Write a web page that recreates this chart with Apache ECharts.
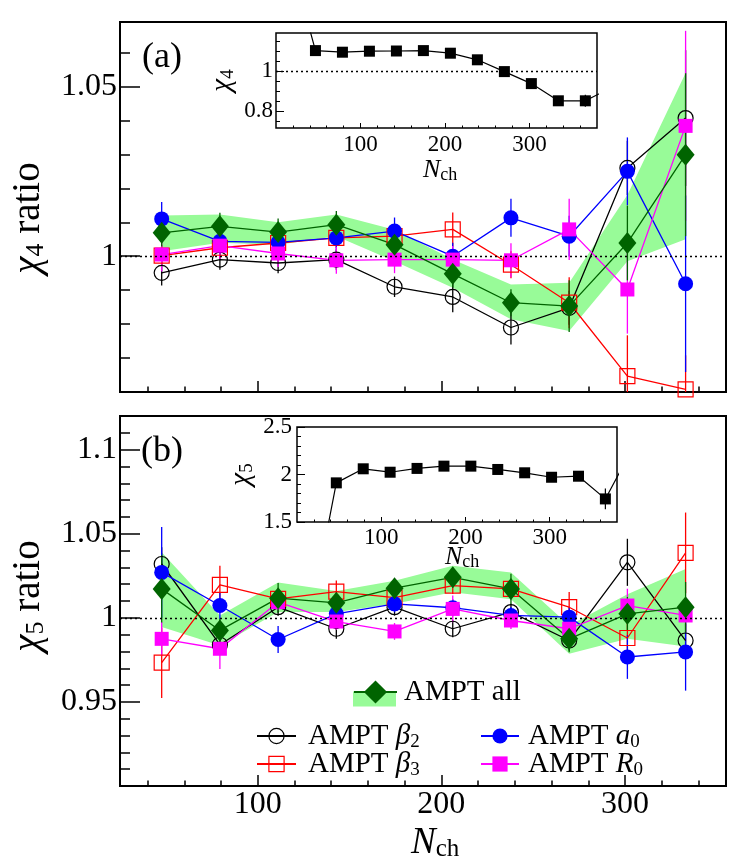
<!DOCTYPE html>
<html><head><meta charset="utf-8">
<script src="https://cdn.jsdelivr.net/npm/echarts@6/dist/echarts.min.js"></script>
<style>html,body{margin:0;padding:0;background:#fff}#c{width:740px;height:865px}</style>
</head><body><div id="c"></div>
<script>
// ---------------- data ----------------
const nch = [47.7, 79.4, 111.1, 142.8, 174.5, 206.2, 237.9, 269.6, 301.3, 333.0];

// panel (a): chi4 ratio
const a_beta2 = [0.9951, 0.9990, 0.9980, 0.9990, 0.9910, 0.9880, 0.9790, 0.9848, 1.0260, 1.0407];
const a_beta2_err = [0.0037, 0.003, 0.003, 0.003, 0.003, 0.0045, 0.005, 0.005, 0.008, 0.020];
const a_beta3 = [1.0002, 1.0025, 1.0039, 1.0054, 1.0059, 1.0079, 0.9975, 0.9863, 0.9647, 0.9608];
const a_beta3_err = [0.003, 0.003, 0.003, 0.003, 0.003, 0.005, 0.004, 0.0075, 0.012, 0.010];
const a_a0 = [1.0110, 1.0044, 1.0041, 1.0054, 1.0074, 1.0000, 1.0113, 1.0059, 1.0250, 0.9919];
const a_a0_err = [0.005, 0.004, 0.004, 0.004, 0.004, 0.004, 0.0056, 0.006, 0.010, 0.026];
const a_R0 = [1.0005, 1.0031, 1.0008, 0.9988, 0.9990, 0.9990, 0.9988, 1.0079, 0.9902, 1.0384];
const a_R0_err = [0.005, 0.004, 0.004, 0.004, 0.004, 0.004, 0.005, 0.009, 0.013, 0.028];
const a_all = [1.0069, 1.0088, 1.0071, 1.0093, 1.0034, 0.9948, 0.9863, 0.9853, 1.0039, 1.0299];
const a_all_err = [0.004, 0.004, 0.004, 0.004, 0.004, 0.004, 0.004, 0.0076, 0.011, 0.024];
const a_band_hi = [1.0120, 1.0123, 1.0100, 1.0123, 1.0078, 0.9990, 0.9917, 0.9922, 1.0180, 1.0540];
const a_band_lo = [1.0015, 1.0040, 1.0034, 1.0059, 0.9985, 0.9907, 0.9814, 0.9780, 0.9985, 1.0050];

// panel (b): chi5 ratio
const b_beta2 = [1.0320, 0.9840, 1.0063, 0.9935, 1.0063, 0.9935, 1.0034, 0.9865, 1.0330, 0.9865];
const b_beta2_err = [0.010, 0.005, 0.005, 0.006, 0.005, 0.005, 0.005, 0.006, 0.014, 0.010];
const b_beta3 = [0.9733, 1.0196, 1.0113, 1.0156, 1.0120, 1.0192, 1.0172, 1.0063, 0.9880, 1.0386];
const b_beta3_err = [0.021, 0.0114, 0.005, 0.0066, 0.005, 0.005, 0.005, 0.009, 0.010, 0.024];
const b_a0 = [1.0270, 1.0073, 0.9871, 1.0024, 1.0083, 1.0060, 1.0014, 1.0004, 0.9767, 0.9797];
const b_a0_err = [0.027, 0.008, 0.008, 0.005, 0.005, 0.005, 0.005, 0.006, 0.013, 0.023];
const b_R0 = [0.9875, 0.9816, 1.0093, 0.9978, 0.9919, 1.0053, 0.9984, 0.9935, 1.0073, 1.0014];
const b_R0_err = [0.010, 0.012, 0.005, 0.005, 0.005, 0.008, 0.005, 0.006, 0.010, 0.010];
const b_all = [1.0172, 0.9925, 1.0117, 1.0089, 1.0176, 1.0241, 1.0172, 0.9875, 1.0024, 1.0063];
const b_all_err = [0.020, 0.007, 0.009, 0.005, 0.005, 0.006, 0.009, 0.008, 0.010, 0.015];
const b_band_hi = [1.0390, 1.0014, 1.0210, 1.0160, 1.0220, 1.0310, 1.0270, 0.9954, 1.0140, 1.0290];
const b_band_lo = [0.9945, 0.9836, 1.0034, 1.0034, 1.0083, 1.0152, 1.0110, 0.9786, 0.9875, 0.9830];

// insets
const nchInset = [14.75, 46.7, 78.65, 110.6, 142.55, 174.5, 206.45, 238.4, 270.35, 302.3, 334.25, 366.2, 398.15];
const chi4 = [1.60, 1.102, 1.094, 1.099, 1.100, 1.102, 1.089, 1.056, 0.997, 0.937, 0.851, 0.851, 0.920];
const chi4_err = [0.01, 0.008, 0.008, 0.008, 0.008, 0.008, 0.008, 0.008, 0.008, 0.010, 0.012, 0.030, 0.03];
const chi5 = [0.45, 1.912, 2.060, 2.024, 2.064, 2.088, 2.088, 2.053, 2.018, 1.971, 1.982, 1.743, 2.27];
const chi5_err = [0.02, 0.030, 0.015, 0.015, 0.015, 0.015, 0.015, 0.015, 0.015, 0.015, 0.015, 0.110, 0.1];

// ticks
const xMainMajor = [100, 200, 300];
const xMainMinor = [40, 60, 80, 100, 120, 140, 160, 180, 200, 220, 240, 260, 280, 300, 320, 340];
const yAMajor = [1, 1.05];
const yAMinor = [0.97, 0.98, 0.99, 1, 1.01, 1.02, 1.03, 1.04, 1.05, 1.06];
const yBMajor = [0.95, 1, 1.05, 1.1];
const yBMinor = [0.91, 0.92, 0.93, 0.94, 0.95, 0.96, 0.97, 0.98, 0.99, 1, 1.01, 1.02, 1.03, 1.04, 1.05, 1.06, 1.07, 1.08, 1.09, 1.1, 1.11];
const xInsetMajor = [100, 200, 300];
const xInsetMinor = [20, 40, 60, 80, 100, 120, 140, 160, 180, 200, 220, 240, 260, 280, 300, 320, 340, 360];
const yIAMajor = [0.8, 1];
const yIAMinor = [0.75, 0.8, 0.85, 0.9, 0.95, 1, 1.05, 1.1, 1.15];
const yIBMajor = [1.5, 2, 2.5];
const yIBMinor = [1.6, 1.7, 1.8, 1.9, 2, 2.1, 2.2, 2.3, 2.4];

// ---------------- styling ----------------
const FONT = 'Liberation Serif';
const BAND = '#98fb98';
const C_B2 = '#000000', C_B3 = '#ff0000', C_A0 = '#0000ff', C_R0 = '#ff00ff', C_ALL = '#006400';

const RANGES = [
  {x: [25, 355], y: [0.96, 1.069]},
  {x: [25, 355], y: [0.90, 1.12]},
  {x: [0, 380], y: [0.715, 1.19]},
  {x: [0, 380], y: [1.5, 2.5]}
];

function xAxisPair(g, major, minor, majLen, minLen, showLabels, fs, margin, lw) {
  const r = RANGES[g].x;
  const base = {type: 'value', gridIndex: g, min: r[0], max: r[1], position: 'bottom',
    axisLine: {show: false}, splitLine: {show: false}};
  return [
    Object.assign({}, base, {
      axisTick: {show: true, inside: true, length: majLen, customValues: major, lineStyle: {color: '#000', width: lw}},
      axisLabel: {show: showLabels, customValues: major, fontFamily: FONT, fontSize: fs, color: '#000', margin: margin}
    }),
    Object.assign({}, base, {
      axisTick: {show: true, inside: true, length: minLen, customValues: minor, lineStyle: {color: '#000', width: lw}},
      axisLabel: {show: false}
    })
  ];
}
function yAxisPair(g, major, minor, majLen, minLen, fs, margin, lw, nameOpt) {
  const r = RANGES[g].y;
  const base = {type: 'value', gridIndex: g, min: r[0], max: r[1], position: 'left',
    axisLine: {show: false}, splitLine: {show: false}};
  return [
    Object.assign({}, base, nameOpt || {}, {
      axisTick: {show: true, inside: true, length: majLen, customValues: major, lineStyle: {color: '#000', width: lw}},
      axisLabel: {show: true, customValues: major, fontFamily: FONT, fontSize: fs, color: '#000', margin: margin}
    }),
    Object.assign({}, base, {
      axisTick: {show: true, inside: true, length: minLen, customValues: minor, lineStyle: {color: '#000', width: lw}},
      axisLabel: {show: false}
    })
  ];
}

function richName(big, small, gap, padL, padR) {
  return {
    i: {fontFamily: FONT, fontStyle: 'italic', fontSize: big, color: '#000', lineHeight: big, padding: [0, 0, 0, padL || 0]},
    s: {fontFamily: FONT, fontSize: small, color: '#000', lineHeight: big - gap, padding: [gap, 0, 0, 0]},
    r: {fontFamily: FONT, fontSize: big, color: '#000', lineHeight: big, padding: [0, padR || 0, 0, 0]}
  };
}

const xAxis = [].concat(
  xAxisPair(0, xMainMajor, xMainMinor, 11, 5.5, false, 32, 3, 1.5),
  xAxisPair(1, xMainMajor, xMainMinor, 11, 5.5, true, 32, 3, 1.5),
  xAxisPair(2, xInsetMajor, xInsetMinor, 5, 2.5, true, 23, 5, 1),
  xAxisPair(3, xInsetMajor, xInsetMinor, 5, 2.5, true, 23, 4, 1)
);
const yAxis = [].concat(
  yAxisPair(0, yAMajor, yAMinor, 20, 10, 32, 3, 1.5,
    {name: '{i|χ}{s|4}{r| ratio}', nameLocation: 'middle', nameRotate: 90, nameGap: 72,
     nameTextStyle: {rich: richName(39, 26, 15, 0, 22)}}),
  yAxisPair(1, yBMajor, yBMinor, 20, 10, 32, 3, 1.5,
    {name: '{i|χ}{s|5}{r| ratio}', nameLocation: 'middle', nameRotate: 90, nameGap: 72,
     nameTextStyle: {rich: richName(39, 26, 15, 10, 0)}}),
  yAxisPair(2, yIAMajor, yIAMinor, 8, 4, 23, 3, 1,
    {name: '{i|χ}{s|4}', nameLocation: 'middle', nameRotate: 90, nameGap: 39,
     nameTextStyle: {rich: richName(29, 19, 11, 0, 4)}}),
  yAxisPair(3, yIBMajor, yIBMinor, 8, 4, 23, 5, 1,
    {name: '{i|χ}{s|5}', nameLocation: 'middle', nameRotate: 90, nameGap: 41,
     nameTextStyle: {rich: richName(29, 19, 11, 0, 2)}})
);

function zipXY(xs, ys) { return xs.map((x, i) => [x, ys[i]]); }

function errSeries(g, xs, ys, es, color, lw) {
  const yr = RANGES[g].y, xr = RANGES[g].x;
  return {
    type: 'custom', xAxisIndex: 2 * g, yAxisIndex: 2 * g, silent: true, z: 3,
    data: xs.map((x, i) => [x, ys[i], es[i]]),
    encode: {x: 0, y: 1},
    renderItem: function (params, api) {
      const x = api.value(0), y = api.value(1), e = api.value(2);
      if (x < xr[0] || x > xr[1]) return null;
      const lo = Math.max(y - e, yr[0]), hi = Math.min(y + e, yr[1]);
      if (hi <= lo) return null;
      const p1 = api.coord([x, lo]), p2 = api.coord([x, hi]);
      return {type: 'line', shape: {x1: p1[0], y1: p1[1], x2: p2[0], y2: p2[1]},
        style: {stroke: color, lineWidth: lw}};
    }
  };
}

function markerSeries(g, name, xs, ys, sym, size, color, open) {
  return {
    type: 'line', name: name, xAxisIndex: 2 * g, yAxisIndex: 2 * g, z: 3,
    data: zipXY(xs, ys), symbol: sym, symbolSize: size, showAllSymbol: true,
    itemStyle: open ? {color: 'rgba(0,0,0,0)', borderColor: color, borderWidth: 1.2}
                    : {color: color, borderWidth: 0},
    lineStyle: {color: color, width: 1.3},
    silent: true
  };
}

function refLine(g) {
  return {type: 'line', xAxisIndex: 2 * g, yAxisIndex: 2 * g, data: [], z: 1, silent: true,
    markLine: {silent: true, symbol: 'none', label: {show: false},
      lineStyle: {color: '#000', type: [2, 3], width: 1.3}, data: [{yAxis: 1}]}};
}

function bandSeries(g, xs, lo, hi) {
  return {
    type: 'custom', xAxisIndex: 2 * g, yAxisIndex: 2 * g, silent: true, z: 2, clip: true,
    data: xs.map((x, i) => [x, lo[i], hi[i]]),
    encode: {x: 0, y: [1, 2]},
    renderItem: function (params, api) {
      if (params.dataIndex !== 0) return null;
      const n = xs.length, pts = [];
      for (let i = 0; i < n; i++) pts.push(api.coord([api.value(0, i), api.value(2, i)]));
      for (let i = n - 1; i >= 0; i--) pts.push(api.coord([api.value(0, i), api.value(1, i)]));
      return {type: 'polygon', shape: {points: pts}, style: {fill: BAND}};
    }
  };
}

function panelSeries(g, d) {
  return [
    refLine(g),
    bandSeries(g, nch, d.lo, d.hi),
    errSeries(g, nch, d.b2, d.b2e, C_B2, 1.3),
    markerSeries(g, 'AMPT beta2', nch, d.b2, 'circle', 15, C_B2, true),
    errSeries(g, nch, d.b3, d.b3e, C_B3, 1.3),
    markerSeries(g, 'AMPT beta3', nch, d.b3, 'rect', 15, C_B3, true),
    errSeries(g, nch, d.a0, d.a0e, C_A0, 1.3),
    markerSeries(g, 'AMPT a0', nch, d.a0, 'circle', 15, C_A0, false),
    errSeries(g, nch, d.r0, d.r0e, C_R0, 1.3),
    markerSeries(g, 'AMPT R0', nch, d.r0, 'rect', 14, C_R0, false),
    errSeries(g, nch, d.all, d.alle, C_ALL, 1.3),
    markerSeries(g, 'AMPT all', nch, d.all, 'diamond', [18, 22], C_ALL, false)
  ];
}

const series = [].concat(
  panelSeries(0, {lo: a_band_lo, hi: a_band_hi, b2: a_beta2, b2e: a_beta2_err, b3: a_beta3, b3e: a_beta3_err,
    a0: a_a0, a0e: a_a0_err, r0: a_R0, r0e: a_R0_err, all: a_all, alle: a_all_err}),
  panelSeries(1, {lo: b_band_lo, hi: b_band_hi, b2: b_beta2, b2e: b_beta2_err, b3: b_beta3, b3e: b_beta3_err,
    a0: b_a0, a0e: b_a0_err, r0: b_R0, r0e: b_R0_err, all: b_all, alle: b_all_err}),
  [
    refLine(2),
    {type: 'line', name: 'chi4', xAxisIndex: 4, yAxisIndex: 4, data: zipXY(nchInset, chi4), z: 3,
     symbol: 'rect', symbolSize: 11, showAllSymbol: true, itemStyle: {color: '#000'},
     lineStyle: {color: '#000', width: 1.2}, silent: true},
    errSeries(2, nchInset, chi4, chi4_err, '#000', 1.2),
    {type: 'line', name: 'chi5', xAxisIndex: 6, yAxisIndex: 6, data: zipXY(nchInset, chi5), z: 3,
     symbol: 'rect', symbolSize: 11, showAllSymbol: true, itemStyle: {color: '#000'},
     lineStyle: {color: '#000', width: 1.2}, silent: true},
    errSeries(3, nchInset, chi5, chi5_err, '#000', 1.2)
  ]
);

const LFS = 29;
const legRich = function (padLeft, color) {
  const c = color || '#000';
  return {
    n: {fontFamily: FONT, fontSize: LFS, color: c, lineHeight: 16, padding: [0, 0, 0, padLeft]},
    g: {fontFamily: FONT, fontSize: LFS, fontStyle: 'italic', color: c, lineHeight: 16},
    s: {fontFamily: FONT, fontSize: 19, color: c, lineHeight: 4, padding: [12, 0, 0, 0]}
  };
};
const legFmt = {
  'AMPT all': '{n|AMPT all}',
  'AMPT beta2': '{n|AMPT }{g|β}{s|2}',
  'AMPT beta3': '{n|AMPT }{g|β}{s|3}',
  'AMPT a0': '{n|AMPT }{g|a}{s|0}',
  'AMPT R0': '{n|AMPT }{g|R}{s|0}'
};
function legendItem(name, left, cy, iw, ih, pad, extra) {
  return Object.assign({
    show: true, selectedMode: false, orient: 'horizontal', left: left, top: cy - ih / 2,
    padding: 0, itemWidth: iw, itemHeight: ih, itemGap: 0,
    data: [name],
    itemStyle: {borderWidth: 1.2},
    formatter: function (n) { return legFmt[n]; },
    textStyle: {fontFamily: FONT, fontSize: LFS, color: '#000', lineHeight: 16, rich: legRich(pad)}
  }, extra || {});
}

const legend = [
  legendItem('AMPT all', 353, 692, 43, 15, 2, {
    data: [{name: 'AMPT all', icon: 'rect', itemStyle: {color: BAND, borderWidth: 0}}],
    textStyle: {fontFamily: FONT, fontSize: LFS, color: 'rgba(0,0,0,0)', lineHeight: 16, rich: legRich(2, 'rgba(0,0,0,0)')}
  }),
  legendItem('AMPT all', 353, 692, 43, 29, 2),
  legendItem('AMPT beta2', 256, 730, 39, 19, 7),
  legendItem('AMPT beta3', 256, 758, 39, 19, 7),
  legendItem('AMPT a0', 480, 730, 38, 19, 4),
  legendItem('AMPT R0', 480, 758, 38, 19, 4)
];

function nchText(x, cy, big, small, gap) {
  return {type: 'text', x: x, y: cy, silent: true,
    style: {text: '{i|N}{s|ch}', rich: richName(big, small, gap), verticalAlign: 'middle', align: 'left',
      fontFamily: FONT, fontSize: big, fill: '#000'}};
}

const graphic = [
  {type: 'text', x: 142, y: 58, silent: true,
   style: {text: '(a)', fontFamily: FONT, fontSize: 36, fill: '#000', verticalAlign: 'middle', align: 'left'}},
  {type: 'text', x: 141, y: 452, silent: true,
   style: {text: '(b)', fontFamily: FONT, fontSize: 36, fill: '#000', verticalAlign: 'middle', align: 'left'}},
  nchText(411, 843, 37, 25, 13),
  nchText(423, 170, 26, 18, 10),
  nchText(445, 557, 26, 18, 10)
];

const chart = echarts.init(document.getElementById('c'), null, {renderer: 'canvas'});
chart.setOption({
  animation: false,
  backgroundColor: '#fff',
  textStyle: {fontFamily: FONT},
  grid: [
    {left: 113, top: 22, width: 613, height: 370, show: true, borderColor: '#000', borderWidth: 2, backgroundColor: 'rgba(0,0,0,0)'},
    {left: 113, top: 416, width: 613, height: 370, show: true, borderColor: '#000', borderWidth: 2, backgroundColor: 'rgba(0,0,0,0)'},
    {left: 276, top: 33, width: 321, height: 95, show: true, borderColor: '#000', borderWidth: 1.5, backgroundColor: 'rgba(0,0,0,0)'},
    {left: 297, top: 427, width: 320, height: 95, show: true, borderColor: '#000', borderWidth: 1.5, backgroundColor: 'rgba(0,0,0,0)'}
  ],
  xAxis: xAxis,
  yAxis: yAxis,
  legend: legend,
  graphic: graphic,
  series: series
});
</script>
</body></html>
